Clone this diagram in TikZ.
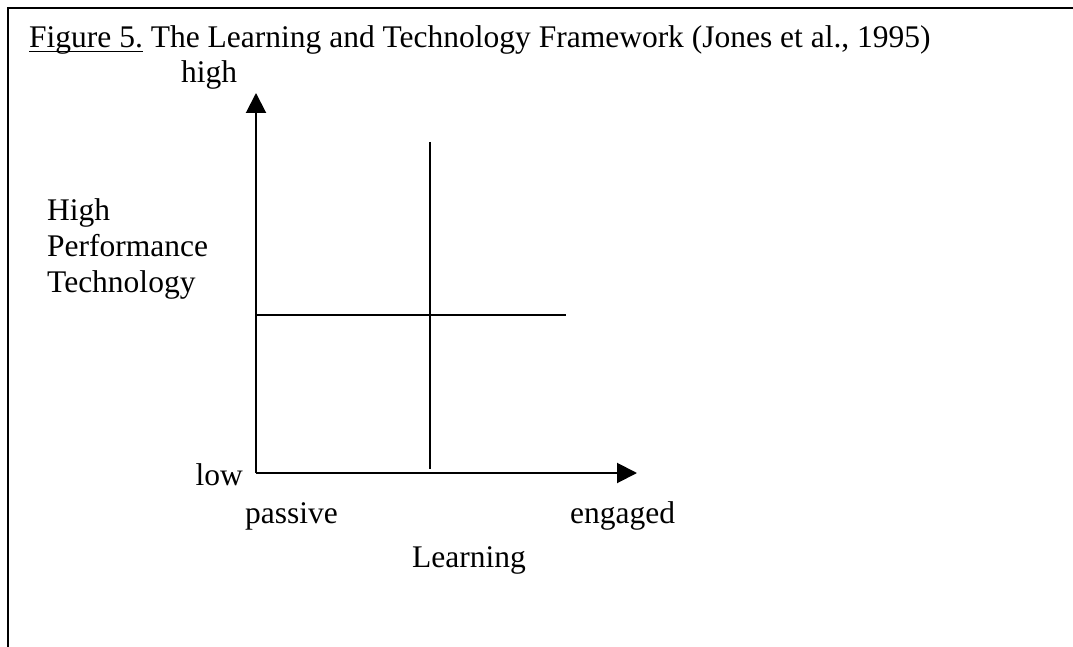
\documentclass[tikz,border=0pt]{standalone}
\usepackage{fontspec}
\setmainfont{Liberation Serif}
\usetikzlibrary{arrows.meta}
\newcommand\ulfig[1]{\setbox0\hbox{#1}\rlap{\rule[-4pt]{\wd0}{1.4pt}}\box0\relax}
\begin{document}
\begin{tikzpicture}[x=1pt,y=-1pt,
  lbl/.style={anchor=base west,inner sep=0pt,font=\fontsize{31.5}{36}\selectfont},
  ln/.style={line width=2pt,line cap=butt},
  axis/.style={ln,-{Triangle[length=20pt,width=20pt]}}]
\useasboundingbox (0,0) rectangle (1073,647);
% frame (top and left edges)
\coordinate (fb) at (8,647);
\coordinate (fc) at (8,8);
\coordinate (fr) at (1073,8);
\draw[line width=2pt] (fb) -- (fc) -- (fr);
% title
\node[lbl] (title) at (29,48) {\ulfig{Figure 5.} The Learning and Technology Framework (Jones et al., 1995)};
% axes
\coordinate (o) at (256,473);
\coordinate (ytip) at (256,93);
\coordinate (xtip) at (637,473);
\draw[axis] (o) -- (ytip);
\draw[axis] (o) -- (xtip);
% quadrant lines
\coordinate (vt) at (430,142);
\coordinate (vb) at (430,469);
\coordinate (hl) at (256,315);
\coordinate (hr) at (566,315);
\draw[ln] (vt) -- (vb);
\draw[ln] (hl) -- (hr);
% labels
\node[lbl] (high) at (181,83) {high};
\node[lbl] (hpt1) at (47,220) {High};
\node[lbl] (hpt2) at (47,256) {Performance};
\node[lbl] (hpt3) at (47,292) {Technology};
\node[lbl,anchor=base east] (low) at (243,485) {low};
\node[lbl] (passive) at (245,523) {passive};
\node[lbl] (engaged) at (570,523) {engaged};
\node[lbl] (learning) at (412,567) {Learning};
\end{tikzpicture}
\end{document}
